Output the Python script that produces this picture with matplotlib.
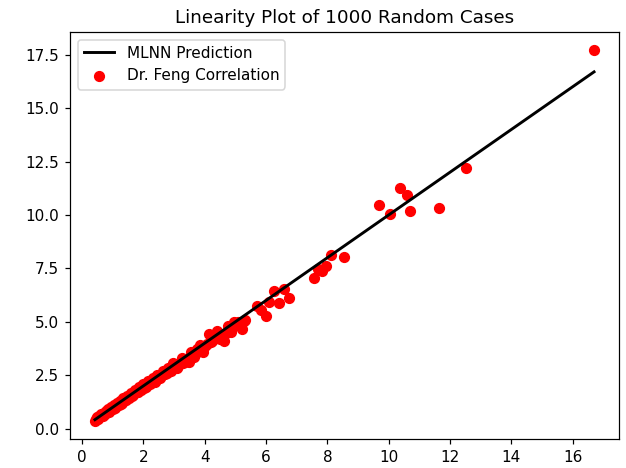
import matplotlib

matplotlib.use("Agg")
import matplotlib.pyplot as plt

# x: MLNN prediction, y: Dr. Feng correlation
mlnn = [0.42, 0.45, 0.48, 0.50, 0.53, 0.56, 0.60, 0.63, 0.66, 0.70,
        0.74, 0.78, 0.82, 0.86, 0.90, 0.95, 1.00, 1.04, 1.09, 1.14,
        1.19, 1.24, 1.30, 1.35, 1.41, 1.47, 1.53, 1.60, 1.66, 1.72,
        1.79, 1.86, 1.93, 2.00, 2.07, 2.15, 2.22, 2.30, 2.38, 2.46,
        2.55, 2.63, 2.72, 2.80, 2.90, 2.98, 3.08, 3.15, 3.25, 3.35,
        3.48, 3.55, 3.64, 3.75, 3.85, 3.95, 4.02, 4.13, 4.20, 4.30,
        4.40, 4.50, 4.62, 4.75, 4.85, 4.95, 5.10, 5.22, 5.28, 5.33,
        5.71, 5.85, 5.99, 6.10, 6.26, 6.42, 6.59, 6.75, 7.57, 7.70,
        7.84, 7.95, 8.11, 8.55, 9.70, 10.05, 10.37, 10.60, 10.70, 11.63,
        12.51, 16.70,
        # extra points filling the dense band
        0.52, 0.68, 0.88, 1.07, 1.27, 1.44, 1.63, 1.82, 2.03, 2.26,
        2.42, 2.58, 2.76, 2.94, 3.12, 3.30, 3.42, 3.70, 3.90, 4.08,
        4.25, 4.45, 4.68, 4.90, 5.05, 5.18]
feng = [0.38, 0.47, 0.44, 0.55, 0.50, 0.60, 0.57, 0.68, 0.62, 0.75,
        0.70, 0.83, 0.77, 0.92, 0.85, 1.01, 0.94, 1.11, 1.03, 1.20,
        1.12, 1.31, 1.22, 1.42, 1.33, 1.55, 1.45, 1.67, 1.56, 1.80,
        1.70, 1.94, 1.82, 2.08, 1.95, 2.22, 2.08, 2.36, 2.20, 2.52,
        2.38, 2.70, 2.55, 2.85, 2.68, 3.05, 2.85, 3.03, 3.30, 3.10,
        3.11, 3.60, 3.34, 3.72, 3.90, 3.60, 3.88, 4.42, 4.05, 4.35,
        4.58, 4.20, 4.11, 4.80, 4.50, 4.97, 5.00, 4.66, 5.05, 5.10,
        5.74, 5.55, 5.28, 5.95, 6.44, 5.90, 6.55, 6.13, 7.06, 7.45,
        7.37, 7.61, 8.15, 8.04, 10.48, 10.06, 11.26, 10.95, 10.17, 10.33,
        12.19, 17.70,
        0.46, 0.61, 0.80, 0.98, 1.16, 1.35, 1.51, 1.72, 1.88, 2.12,
        2.28, 2.44, 2.60, 2.78, 2.95, 3.08, 3.26, 3.52, 3.80, 3.98,
        4.12, 4.30, 4.48, 4.72, 4.85, 4.92]

DPI = 110
fig = plt.figure(figsize=(626 / DPI, 468 / DPI), dpi=DPI)
ax = fig.add_axes([70 / 626, 29 / 468, 549 / 626, 407 / 468])

line_x = sorted(mlnn)
ax.plot(line_x, line_x, color="black", linewidth=1.9, label="MLNN Prediction")
ax.scatter(mlnn, feng, color="red", s=40, label="Dr. Feng Correlation")
ax.set_title("Linearity Plot of 1000 Random Cases")
ax.legend(loc="upper left")

fig.savefig("out.png", dpi=DPI)
